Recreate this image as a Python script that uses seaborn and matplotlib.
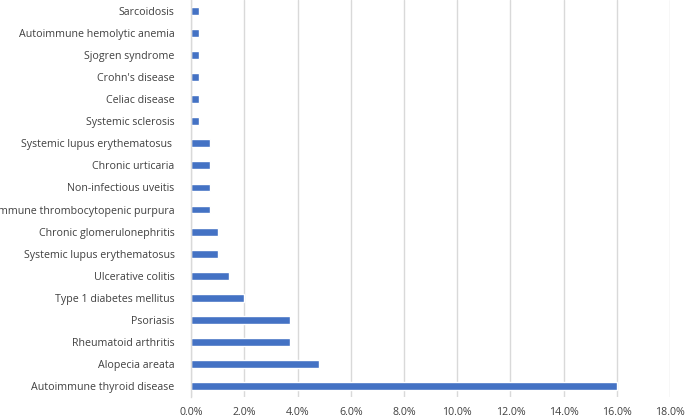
import matplotlib
matplotlib.use("Agg")
import matplotlib.pyplot as plt
import seaborn as sns
import pandas as pd
from matplotlib.ticker import FuncFormatter

# Top-to-bottom order as shown
categories = [
    "Sarcoidosis",
    "Autoimmune hemolytic anemia",
    "Sjogren syndrome",
    "Crohn's disease",
    "Celiac disease",
    "Systemic sclerosis",
    "Systemic lupus erythematosus ",
    "Chronic urticaria",
    "Non-infectious uveitis",
    "Immune thrombocytopenic purpura",
    "Chronic glomerulonephritis",
    "Systemic lupus erythematosus",
    "Ulcerative colitis",
    "Type 1 diabetes mellitus",
    "Psoriasis",
    "Rheumatoid arthritis",
    "Alopecia areata",
    "Autoimmune thyroid disease",
]
values = [0.3, 0.3, 0.3, 0.3, 0.3, 0.3, 0.7, 0.7, 0.7, 0.7, 1.0, 1.0, 1.4, 2.0, 3.7, 3.7, 4.8, 16.0]

df = pd.DataFrame({"key": [f"{i}" for i in range(len(categories))],
                   "category": categories, "value": values})

sns.set_theme(style="white")
plt.rcParams["font.family"] = ["Open Sans", "DejaVu Sans"]

fig = plt.figure(figsize=(6.85, 4.18), dpi=100)
ax = fig.add_axes([191.3 / 685, 21 / 418, (670 - 191.3) / 685, 397 / 418])

sns.barplot(data=df, y="key", x="value", orient="h", color="#4472C4",
            width=0.36, saturation=1, ax=ax)

ax.set_yticks(range(len(categories)))
ax.set_yticklabels(categories)
ax.set_xlim(0, 18)
ax.set_xticks([0, 2, 4, 6, 8, 10, 12, 14, 16, 18])
ax.xaxis.set_major_formatter(FuncFormatter(lambda v, p: f"{v:.1f}%"))
ax.set_xlabel("")
ax.set_ylabel("")

ax.grid(axis="x", color="#d9d9d9", linewidth=1)
ax.set_axisbelow(True)
for s in ["top", "right", "bottom"]:
    ax.spines[s].set_visible(False)
ax.spines["left"].set_color("#d9d9d9")
ax.spines["left"].set_linewidth(1)

ax.tick_params(axis="both", length=0, colors="#404040", labelsize=7.7)
ax.tick_params(axis="y", pad=12)
ax.tick_params(axis="x", pad=7)

fig.savefig("out.png", dpi=100)
